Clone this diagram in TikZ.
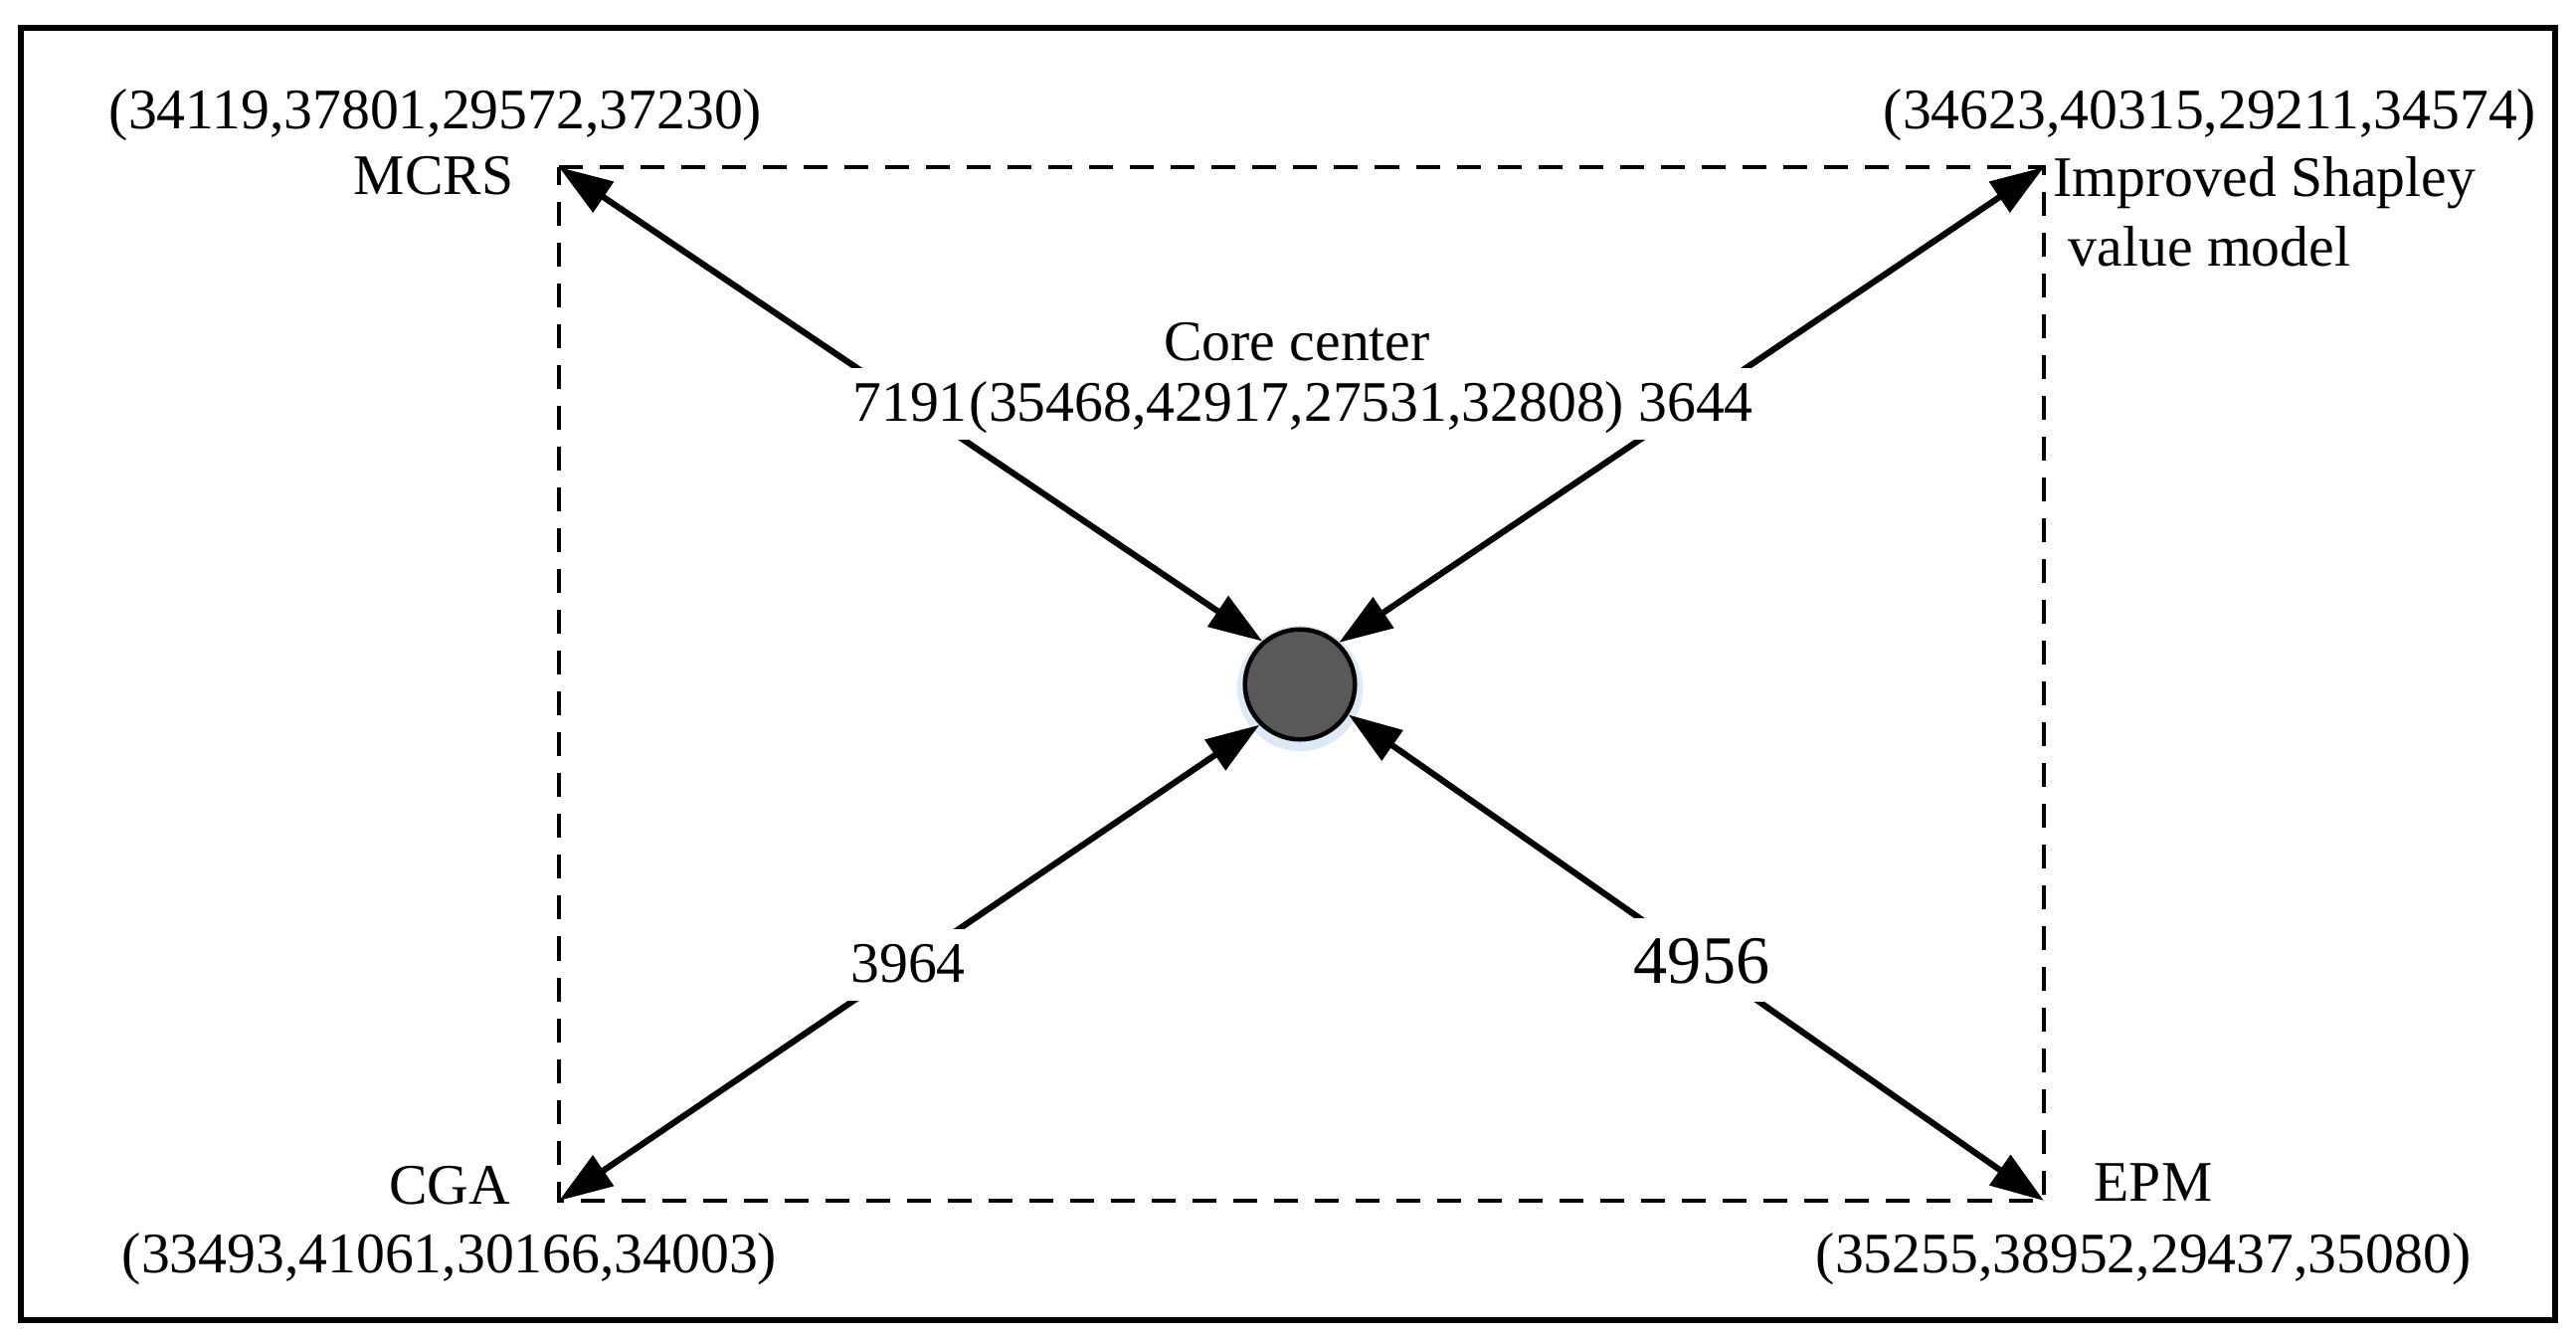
\documentclass[tikz,border=0pt]{standalone}
\usepackage{fontspec}
\setmainfont{Liberation Serif}
\usetikzlibrary{arrows.meta}
\begin{document}
\begin{tikzpicture}[x=0.01cm,y=-0.01cm,
  txt/.style={inner sep=0pt, font=\fontsize{16.4}{19.7}\selectfont},
  lab/.style={txt, fill=white, text height=0.53cm, text depth=0.19cm, inner xsep=0.04cm},
  biglab/.style={lab, font=\fontsize{19.4}{23}\selectfont, text height=0.65cm, text depth=0.19cm},
  arr/.style={line width=0.062cm, {Triangle[length=0.54cm,width=0.36cm]}-{Triangle[length=0.54cm,width=0.36cm]}},
  dashbox/.style={line width=0.045cm, dash pattern=on 0.24cm off 0.17cm},
  core/.style={circle, draw=black, line width=0.045cm, fill=black!65, minimum size=1.105cm, inner sep=0pt}
]
\useasboundingbox (0,0) rectangle (2590,1345);
% outer frame
\draw[line width=0.055cm] (21,28) rectangle (2569,1327);
% corners
\coordinate (nw) at (562,168);
\coordinate (ne) at (2055,168);
\coordinate (sw) at (562,1207);
\coordinate (se) at (2055,1207);
\draw[dashbox] (nw) -- (ne) -- (se) -- (sw) -- cycle;
% glow
\fill[color={rgb,255:red,222;green,233;blue,247}] (1307,692) circle[radius=0.63cm];
\node[core] (c) at (1307,688) {};
% arrows
\draw[arr] (c.131) -- (nw);
\draw[arr] (c.47) -- (ne);
\draw[arr] (c.225) -- (sw);
\draw[arr] (c.328) -- (se);
% labels on arrows
\node[lab, anchor=base] (l1) at (915,423) {7191};
\node[lab, anchor=base] (l2) at (1705,423) {3644};
\node[lab, anchor=base] (l3) at (913,987) {3964};
\node[biglab, anchor=base] (l4) at (1711,988) {4956};
% centre texts
\node[txt, anchor=base] (cc) at (1304,362) {Core center};
\node[txt, anchor=base] (cv) at (1304,423) {(35468,42917,27531,32808)};
% corner texts
\node[txt, anchor=base] (mv) at (438,129) {(34119,37801,29572,37230)};
\node[txt, anchor=base] (mn) at (436,195) {MCRS};
\node[txt, anchor=base] (sv) at (2222,129) {(34623,40315,29211,34574)};
\node[txt, anchor=base west] (sn1) at (2064,197) {Improved Shapley};
\node[txt, anchor=base west] (sn2) at (2079,267) {value model};
\node[txt, anchor=base] (gn) at (452,1210) {CGA};
\node[txt, anchor=base] (gv) at (452,1279) {(33493,41061,30166,34003)};
\node[txt, anchor=base] (en) at (2165,1207) {EPM};
\node[txt, anchor=base] (ev) at (2155,1279) {(35255,38952,29437,35080)};
\end{tikzpicture}
\end{document}
